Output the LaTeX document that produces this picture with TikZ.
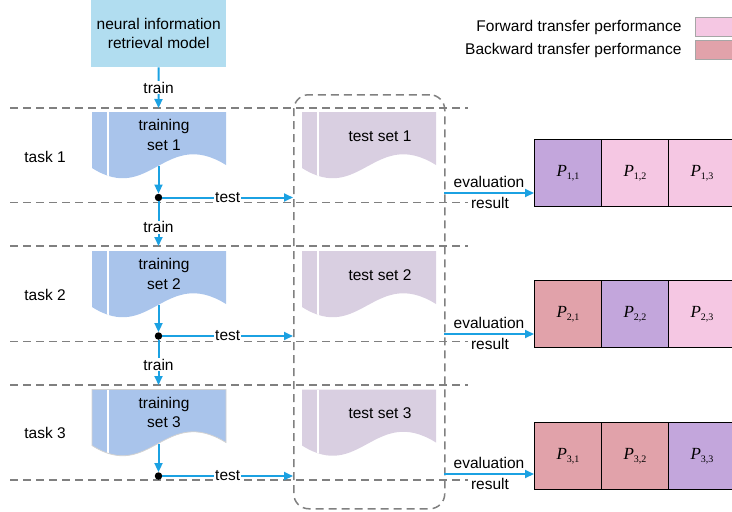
\documentclass[tikz,border=0pt]{standalone}
\usepackage{fontspec}
\setmainfont{Liberation Sans}
\newfontfamily\plabfont{Liberation Serif}
\usetikzlibrary{arrows.meta}
\definecolor{modelblue}{HTML}{B1DDF0}
\definecolor{trainblue}{HTML}{A9C4EB}
\definecolor{testlav}{HTML}{D9CFE1}
\definecolor{diagpur}{HTML}{C3A6DC}
\definecolor{fwdpink}{HTML}{F5C7E3}
\definecolor{bwdrose}{HTML}{E1A2AA}
\definecolor{flowblue}{HTML}{1BA1E2}
\definecolor{lanegray}{HTML}{808080}
\newcommand\docpath[2]{({#1},{#2}) -- ({#1+134},{#2}) -- ({#1+134},{#2+53}) .. controls ({#1+73},{#2+15}) and ({#1+58},{#2+93}) .. ({#1},{#2+56}) -- cycle}
\newcommand\plab[2]{{\plabfont\fontsize{17}{17}\selectfont\textit{P}\raisebox{-3.5pt}{\fontsize{10}{10}\selectfont #1,#2}}}
\tikzset{
  lane/.style={draw=lanegray, line width=1.5pt, dash pattern=on 8pt off 5pt},
  flow/.style={draw=flowblue, line width=2pt, -{Triangle[length=9pt,width=8pt]}},
  lbl/.style={fill=white, inner sep=1pt},
  dotnode/.style={circle, fill=black, inner sep=0pt, minimum size=7.5pt},
  cell/.style={draw=black, line width=1pt, minimum width=67pt, minimum height=67pt, inner sep=0pt, anchor=north west},
  legbox/.style={draw=lanegray!70, line width=0.8pt, minimum width=42pt, minimum height=19pt, inner sep=0pt, anchor=west},
}
\begin{document}
\begin{tikzpicture}[x=1pt,y=-1pt,font=\fontsize{15.5}{19.5}\selectfont]
\useasboundingbox (0,0) rectangle (732,512);
% legend
\node[anchor=east] (fwdtxt) at (685,27) {Forward transfer performance};
\node[legbox, fill=fwdpink] (fwdbox) at (695,27) {};
\node[anchor=east] (bwdtxt) at (685,50) {Backward transfer performance};
\node[legbox, fill=bwdrose] (bwdbox) at (695,50) {};
% model
\node[fill=modelblue, minimum width=135pt, minimum height=67pt, inner sep=0pt, align=center, anchor=north west] (model) at (91,0) {neural information\\retrieval model};
% lanes and shapes
\foreach \i/\T/\B/\D/\S/\E/\M/\K/\ca/\cb/\cc in {
 1/108/202.5/197.5/112/193/139/157/diagpur/fwdpink/fwdpink,
 2/246/341.5/336/251/334/280/295/bwdrose/diagpur/fwdpink,
 3/385/480/476/389.5/474/422/433/bwdrose/bwdrose/diagpur}{
  \draw[lane] (10,\T) -- (468,\T);
  \draw[lane] (10,\B) -- (468,\B);
  \node (task\i) at (45,\K) {task \i};
  \fill[trainblue] \docpath{92}{\S};
  \begin{scope}
    \clip \docpath{92}{\S};
    \draw[white, line width=1.3pt] (108,\S) -- (108,{\S+80});
  \end{scope}
  \node[align=center] (tr\i) at (164,{\S+23}) {training\\set \i};
  \fill[testlav] \docpath{302}{\S};
  \begin{scope}
    \clip \docpath{302}{\S};
    \draw[white, line width=1.3pt] (318,\S) -- (318,{\S+80});
  \end{scope}
  \node (ts\i) at (380,{\S+24}) {test set \i};
  \coordinate (in\i) at (158.5,\T);
  \coordinate (trb\i) at (158.5,{\S+54});
  \coordinate (ev\i) at (444,\E);
  \node[dotnode] (dot\i) at (158.5,\D) {};
  \node[cell, fill=\ca] (p\i1) at (534,\M) {\plab{\i}{1}};
  \node[cell, fill=\cb] (p\i2) at (601,\M) {\plab{\i}{2}};
  \node[cell, fill=\cc] (p\i3) at (668,\M) {\plab{\i}{3}};
}
\draw[gray!35, line width=0.8pt] \docpath{92}{389.5};
% test region
\node[lane, rounded corners=15pt, minimum width=151pt, minimum height=414pt, inner sep=0pt, anchor=north west] (testbox) at (293,94) {};
% connectors
\draw[flow] (model) -- (in1) node[lbl, pos=0.5] {train};
\draw[flow] (dot1) -- (in2) node[lbl, pos=0.58] {train};
\draw[flow] (dot2) -- (in3) node[lbl, pos=0.55] {train};
\foreach \i/\E in {1/193, 2/334, 3/474}{
  \draw[flow] (trb\i) -- (dot\i);
  \draw[flow] (dot\i) -- (testbox.west |- dot\i) node[lbl, pos=0.5] {test};
  \draw[flow] (ev\i) -- (p\i1.west |- ev\i);
  \node[lbl] (evl\i) at (489,{\E-11}) {evaluation};
  \node[lbl] (res\i) at (490,{\E+9.5}) {result};
}
\end{tikzpicture}
\end{document}
